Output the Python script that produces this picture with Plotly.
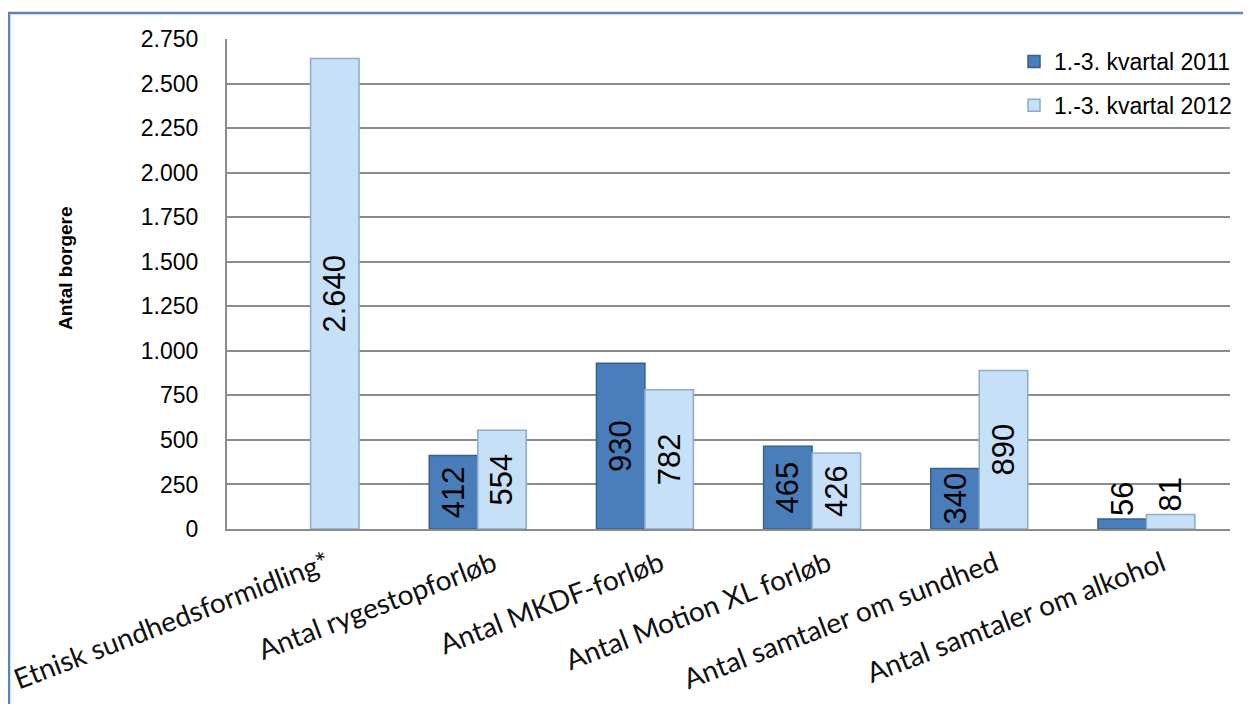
import plotly.graph_objects as go

categories = ["Etnisk sundhedsformidling*", "Antal rygestopforløb", "Antal MKDF-forløb",
              "Antal Motion XL forløb", "Antal samtaler om sundhed", "Antal samtaler om alkohol"]
series_2011 = [None, 412, 930, 465, 340, 56]
series_2012 = [2640, 554, 782, 426, 890, 81]
names = ["1.-3. kvartal 2011", "1.-3. kvartal 2012"]
y_ticks = list(range(0, 2751, 250))

def fmt(v):
    return "" if v is None else f"{v:,}".replace(",", ".")

def pos(vals):
    return ["outside" if (v is not None and v < 150) else "inside" for v in vals]

# page body has an 8px margin: figure placed at (8, 8)
OFF = 8
W, H = 1251 - OFF, 704 - OFF
# plot area in reference (screen) pixels
PL, PR, PT, PB = 227, 1230, 39, 529
L, R, T, B = PL - OFF, W - (PR - OFF), PT - OFF, H - (PB - OFF)
pw, ph = PR - PL, PB - PT

LABEL_FONT = dict(family="Liberation Sans, Arial", size=31, color="black")

fig = go.Figure()
fig.add_trace(go.Bar(
    x=categories, y=series_2011, name=names[0], legendgroup="a",
    marker=dict(color="#4A7EBB", line=dict(color="#34608F", width=1.5)),
    text=[fmt(v) for v in series_2011], textposition=pos(series_2011),
    textangle=-90, insidetextanchor="middle", constraintext="none",
    textfont=LABEL_FONT, cliponaxis=False,
))
fig.add_trace(go.Bar(
    x=categories, y=series_2012, name=names[1], legendgroup="b",
    marker=dict(color="#C6E0F8", line=dict(color="#8EAACB", width=1.5)),
    text=[fmt(v) for v in series_2012], textposition=pos(series_2012),
    textangle=-90, insidetextanchor="middle", constraintext="none",
    textfont=LABEL_FONT, cliponaxis=False,
))

def px_x(p):
    return (p - PL) / pw

def px_y(p):
    return (PB - p) / ph

fig.update_layout(
    width=W, height=H,
    margin=dict(l=L, r=R, t=T, b=B, autoexpand=False),
    paper_bgcolor="white", plot_bgcolor="white",
    barmode="group", bargap=0.42, bargroupgap=0.0,
    separators=",.",
    font=dict(family="Liberation Sans, Arial", size=22, color="black"),
    showlegend=True,
    legend=dict(x=px_x(1014), y=px_y(40), xanchor="left", yanchor="top",
                bgcolor="rgba(0,0,0,0)", font=dict(size=23),
                itemwidth=30, tracegroupgap=11),
    xaxis=dict(tickangle=-21, showgrid=False, showline=True, linecolor="#8C8C8C", linewidth=2,
               tickfont=dict(family="Lato, Open Sans", size=28, color="#111111"), ticks="",
               automargin=False, ticklabelshift=16, ticklabelstandoff=6),
    yaxis=dict(range=[0, 2750], tickvals=y_ticks, tickformat=",d",
               showgrid=True, gridcolor="#8C8C8C", gridwidth=2,
               showline=True, linecolor="#8C8C8C", linewidth=2,
               zeroline=False, ticks="", ticklen=0, automargin=False,
               tickfont=dict(size=23), ticklabelstandoff=22),
    annotations=[dict(text="<b>Antal borgere</b>", xref="paper", yref="paper",
                      x=px_x(65), y=px_y(268), textangle=-90, showarrow=False,
                      xanchor="center", yanchor="middle", font=dict(size=19))],
    shapes=[dict(type="rect", xref="paper", yref="paper",
                 x0=px_x(9), x1=px_x(1270), y0=px_y(720), y1=px_y(13),
                 line=dict(color="#5B84BF", width=2.5), fillcolor="rgba(0,0,0,0)", layer="below")],
)

fig.write_html("out.html")
